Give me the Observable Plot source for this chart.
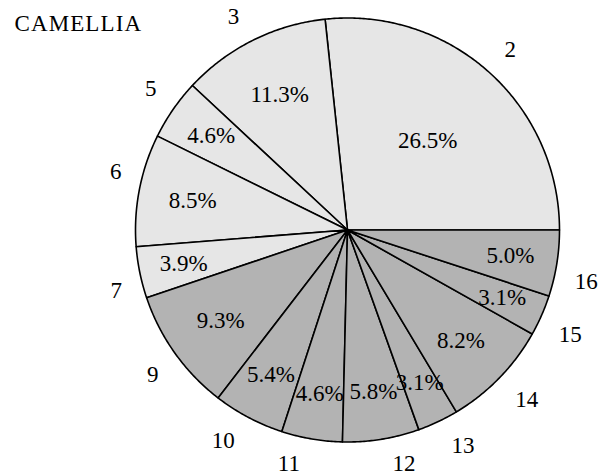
<!DOCTYPE html>
<html>
<head>
<meta charset="utf-8">
<script src="https://cdn.jsdelivr.net/npm/d3@7"></script>
<script src="https://cdn.jsdelivr.net/npm/@observablehq/plot@0.6"></script>
<style>
  body { margin: 0; background: white; font-family: "Liberation Serif", serif; }
  svg, svg text, svg g { font-family: "Liberation Serif", serif !important; }
</style>
</head>
<body>
<div id="chart"></div>
<script>
// ---- data ----
const title = "CAMELLIA";
const categories = ["2", "3", "5", "6", "7", "9", "10", "11", "12", "13", "14", "15", "16"];
const percentages = [26.5, 11.3, 4.6, 8.5, 3.9, 9.3, 5.4, 4.6, 5.8, 3.1, 8.2, 3.1, 5.0];
const groups = ["A", "A", "A", "A", "A", "B", "B", "B", "B", "B", "B", "B", "B"];

// ---- layout ----
const W = 606, H = 473;
const R = 212;            // pie radius in px
const cx = 347, cy = 229.5;
const fontSize = 23;
const FONT = "Liberation Serif";

// ---- geometry (pgf-pie style: start east, counterclockwise, scaled to total) ----
const total = d3.sum(percentages);
let acc = 0;
const slices = categories.map((c, i) => {
  const a0 = acc / total * 360;
  acc += percentages[i];
  const a1 = acc / total * 360;
  return {category: c, value: percentages[i], group: groups[i], a0, a1, mid: (a0 + a1) / 2};
});

const rad = (deg) => deg * Math.PI / 180;
const polyPoints = [];
for (const s of slices) {
  const n = Math.max(2, Math.ceil((s.a1 - s.a0) / 0.5));
  polyPoints.push({category: s.category, group: s.group, x: 0, y: 0});
  for (let k = 0; k <= n; k++) {
    const a = rad(s.a0 + (s.a1 - s.a0) * k / n);
    polyPoints.push({category: s.category, group: s.group, x: Math.cos(a), y: Math.sin(a)});
  }
  polyPoints.push({category: s.category, group: s.group, x: 0, y: 0});
}

// inner (percentage) label radius: pgf-pie rule
const innerPos = (delta) => {
  const t = Math.min(-0.3 * (delta - 10) / 110, 0);
  return Math.max(t, -0.5) + 0.8;
};
const inner = slices.map(s => {
  const r = innerPos(s.a1 - s.a0);
  return {text: s.value.toFixed(1) + "%", x: r * Math.cos(rad(s.mid)), y: r * Math.sin(rad(s.mid))};
});

// outer labels: box corner anchored just outside the rim (TikZ-like corner anchor + inner sep)
const rimGap = 8, sep = 10, halfH = 6.5;
const outer = slices.map(s => {
  const c = Math.cos(rad(s.mid)), sn = Math.sin(rad(s.mid));
  const hw = s.category.length * 0.25 * fontSize;
  const px = (R + rimGap) * c + Math.sign(c) * (hw + sep);
  const py = (R + rimGap) * sn + Math.sign(sn) * (halfH + sep);
  return {text: s.category, x: px / R, y: py / R};
});

const chart = Plot.plot({
  width: W,
  height: H,
  margin: 0,
  x: {domain: [-cx / R, (W - cx) / R], axis: null},
  y: {domain: [-(H - cy) / R, cy / R], axis: null},
  color: {domain: ["A", "B"], range: ["#e6e6e6", "#b3b3b3"]},
  marks: [
    Plot.line(polyPoints, {
      x: "x", y: "y", z: "category", fill: "group",
      stroke: "black", strokeWidth: 1.6, strokeLinejoin: "round", curve: "linear"
    }),
    Plot.text(inner, {x: "x", y: "y", text: "text", fontSize, fontFamily: FONT, fill: "black"}),
    Plot.text(outer, {x: "x", y: "y", text: "text", fontSize, fontFamily: FONT, fill: "black"}),
    Plot.text([title], {text: d => d, frameAnchor: "top-left", dx: 14, dy: 14, fontSize, fontFamily: FONT, fill: "black"})
  ]
});
chart.setAttribute("font-family", FONT);
d3.select(chart).selectAll("text").attr("font-family", FONT).style("font-family", "'Liberation Serif', serif");
d3.select(chart).selectAll("text").filter(function () { return this.textContent === title; }).style("letter-spacing", "1.1px");
document.getElementById("chart").appendChild(chart);
</script>
</body>
</html>
